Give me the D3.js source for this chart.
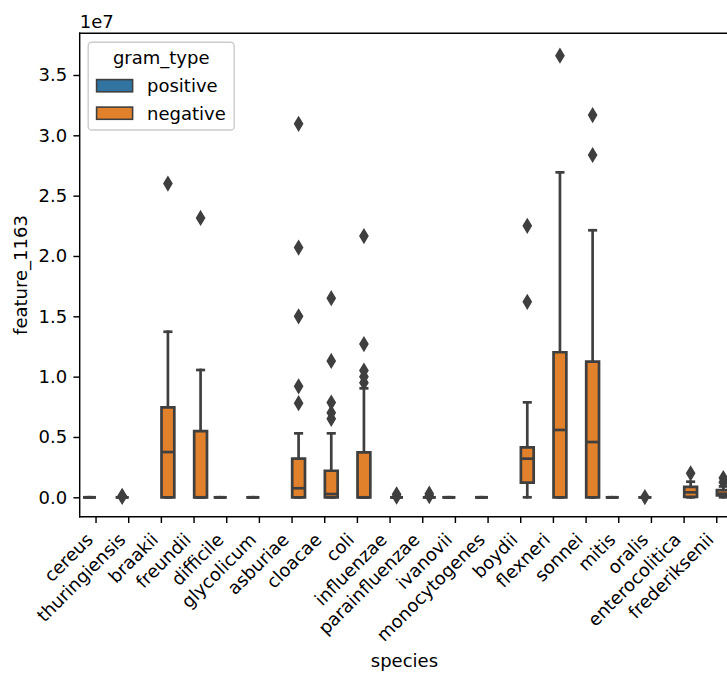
<!DOCTYPE html>
<html><head><meta charset="utf-8">
<script src="https://cdn.jsdelivr.net/npm/d3@7"></script>
<style>body{margin:0;background:#fff;overflow:hidden} text{font-family:"DejaVu Sans",sans-serif}</style>
</head><body><svg id="c" width="727" height="673"></svg>
<script>
// ---- data ----
const species = ["cereus","thuringiensis","braakii","freundii","difficile","glycolicum","asburiae","cloacae","coli","influenzae","parainfluenzae","ivanovii","monocytogenes","boydii","flexneri","sonnei","mitis","oralis","enterocolitica","frederiksenii"];
const gramType = ["positive","positive","negative","negative","positive","positive","negative","negative","negative","negative","negative","positive","positive","negative","negative","negative","positive","positive","negative","negative"];
const whiskerLow  = [0,0,0,0,0,0,0,0,0,0,0,0,0,0,0,0,0,0,0,0];
const q1          = [0,0,0,0,0,0,0,0,0,0,0,0,0,1.21e6,0,0,0,0,0.3e5,1.5e5];
const median      = [0,0,3.75e6,0,0,0,7.5e5,2.7e5,0,0,0,0,0,3.2e6,5.58e6,4.58e6,0,0,4.1e5,3.0e5];
const q3          = [0,0,7.45e6,5.49e6,0,0,3.2e6,2.2e6,3.73e6,0,0,0,0,4.14e6,1.202e7,1.124e7,0,0,8.6e5,6.0e5];
const whiskerHigh = [0,0,1.372e7,1.055e7,0,0,5.3e6,5.3e6,9.03e6,0,0,0,0,7.87e6,2.693e7,2.213e7,0,0,1.29e6,9.0e5];
const outliers = [
  [], [3e4, 1.2e5], [2.60e7], [2.315e7], [], [],
  [7.8e6, 9.2e6, 1.50e7, 2.07e7, 3.095e7],
  [6.5e6, 7.0e6, 7.85e6, 1.13e7, 1.65e7],
  [9.5e6, 1.0e7, 1.05e7, 1.27e7, 2.165e7],
  [5e4, 2.5e5], [1e5, 3e5], [], [],
  [1.62e7, 2.25e7], [3.66e7], [2.837e7, 3.168e7],
  [], [2e4], [1.99e6], [1.25e6, 1.6e6]
];
const hueLevels = ["positive","negative"];
const hueColors = ["#3274a1","#e1812c"];
const yTicks = [0, 5e6, 1e7, 1.5e7, 2e7, 2.5e7, 3e7, 3.5e7];
const xTitle = "species", yTitle = "feature_1163", legendTitle = "gram_type";

// ---- layout ----
const L = 79.7, T = 33.3, B = 516.7, step = 32.67;
const R = L + step * species.length;
const fs = 18, lw = 2.7, gray = "#3f3f3f";
const svg = d3.select("#c");

const x = d3.scaleBand().domain(species).range([L, R]).padding(0);
const hue = d3.scaleBand().domain(hueLevels).range([-0.4 * x.bandwidth(), 0.4 * x.bandwidth()]);
const color = d3.scaleOrdinal().domain(hueLevels).range(hueColors);
const y = d3.scaleLinear().domain([-1.608e6, 3.8455e7]).range([B, T]);

const boxW = hue.bandwidth() * 0.98;
const rows = species.map((s, i) => ({
  s, g: gramType[i], wl: whiskerLow[i], q1: q1[i], med: median[i], q3: q3[i], wh: whiskerHigh[i], out: outliers[i],
  cx: x(s) + x.bandwidth() / 2 + hue(gramType[i]) + hue.bandwidth() / 2
}));

const plot = svg.append("g");
rows.forEach(r => {
  const g = plot.append("g");
  const x0 = r.cx - boxW / 2, x1 = r.cx + boxW / 2;
  const capHalf = boxW / 4;
  [[r.q1, r.wl], [r.q3, r.wh]].forEach(([a, b]) => {
    g.append("line").attr("x1", r.cx).attr("x2", r.cx).attr("y1", y(a)).attr("y2", y(b))
      .attr("stroke", gray).attr("stroke-width", lw).attr("stroke-linecap", "square");
  });
  [r.wl, r.wh].forEach(v => {
    g.append("line").attr("x1", r.cx - capHalf).attr("x2", r.cx + capHalf).attr("y1", y(v)).attr("y2", y(v))
      .attr("stroke", gray).attr("stroke-width", lw).attr("stroke-linecap", "square");
  });
  g.append("path")
    .attr("d", `M${x0},${y(r.q1)}L${x1},${y(r.q1)}L${x1},${y(r.q3)}L${x0},${y(r.q3)}Z`)
    .attr("fill", color(r.g)).attr("stroke", gray).attr("stroke-width", lw).attr("stroke-linejoin", "miter");
  g.append("line").attr("x1", x0).attr("x2", x1).attr("y1", y(r.med)).attr("y2", y(r.med))
    .attr("stroke", gray).attr("stroke-width", lw);
  const hh = 6.36, hw = 3.82;
  r.out.forEach(v => {
    const yy = y(v);
    g.append("path").attr("d", `M${r.cx},${yy - hh}L${r.cx + hw},${yy}L${r.cx},${yy + hh}L${r.cx - hw},${yy}Z`)
      .attr("fill", gray).attr("stroke", gray).attr("stroke-width", 1.8);
  });
});

// ---- axes ----
const yAxis = svg.append("g").attr("transform", `translate(${L},0)`)
  .call(d3.axisLeft(y).tickValues(yTicks).tickSize(6.3).tickPadding(6.3).tickSizeOuter(0)
    .tickFormat(d => (d / 1e7).toFixed(1)));
yAxis.select(".domain").remove();
yAxis.selectAll(".tick line").attr("stroke", "#000").attr("stroke-width", 1.44);
yAxis.selectAll(".tick text").attr("font-size", fs).attr("fill", "#000").attr("font-family", "DejaVu Sans");

const xAxis = svg.append("g").attr("transform", `translate(0,${B})`)
  .call(d3.axisBottom(x).tickSize(6.3).tickSizeOuter(0).tickFormat(""));
xAxis.select(".domain").remove();
xAxis.selectAll(".tick line").attr("stroke", "#000").attr("stroke-width", 1.44);

const xl = svg.append("g");
species.forEach(s => {
  const tx = x(s) + x.bandwidth() / 2;
  xl.append("text").attr("text-anchor", "end").attr("font-size", fs).attr("fill", "#000")
    .attr("transform", `translate(${tx - 2.0},${B + 12.6 + 11.5}) rotate(-45)`).text(s);
});

const sp = svg.append("g").attr("stroke", "#000").attr("stroke-width", 1.44).attr("stroke-linecap", "square");
sp.append("line").attr("x1", L).attr("x2", L).attr("y1", T).attr("y2", B);
sp.append("line").attr("x1", L).attr("x2", R).attr("y1", B).attr("y2", B);
sp.append("line").attr("x1", L).attr("x2", R).attr("y1", T).attr("y2", T);

svg.append("text").attr("x", L).attr("y", 27.5).attr("font-size", fs).text("1e7");

const xlb = xl.node().getBBox();
svg.append("text").attr("x", (L + R) / 2 - 2).attr("y", xlb.y + xlb.height + 7.2 + 14.5)
  .attr("text-anchor", "middle").attr("font-size", fs).text(xTitle);
svg.append("text").attr("transform", `translate(26.5,${(T + B) / 2}) rotate(-90)`)
  .attr("text-anchor", "middle").attr("font-size", fs).text(yTitle);

// ---- legend ----
const lg = svg.append("g");
lg.append("rect").attr("x", 88.2).attr("y", 42.3).attr("width", 146).attr("height", 87.7).attr("rx", 3.6)
  .attr("fill", "#fff").attr("fill-opacity", 0.8).attr("stroke", "#cccccc").attr("stroke-width", 1.4);
lg.append("text").attr("x", 161.2).attr("y", 64).attr("text-anchor", "middle").attr("font-size", fs).text(legendTitle);
hueLevels.forEach((h, i) => {
  const yy = 79.6 + i * 27.5;
  lg.append("rect").attr("x", 96.6).attr("y", yy).attr("width", 36).attr("height", 12.2)
    .attr("fill", color(h)).attr("stroke", gray).attr("stroke-width", 1.6);
  lg.append("text").attr("x", 147).attr("y", yy + 12.6).attr("font-size", fs).text(h);
});
</script></body></html>
